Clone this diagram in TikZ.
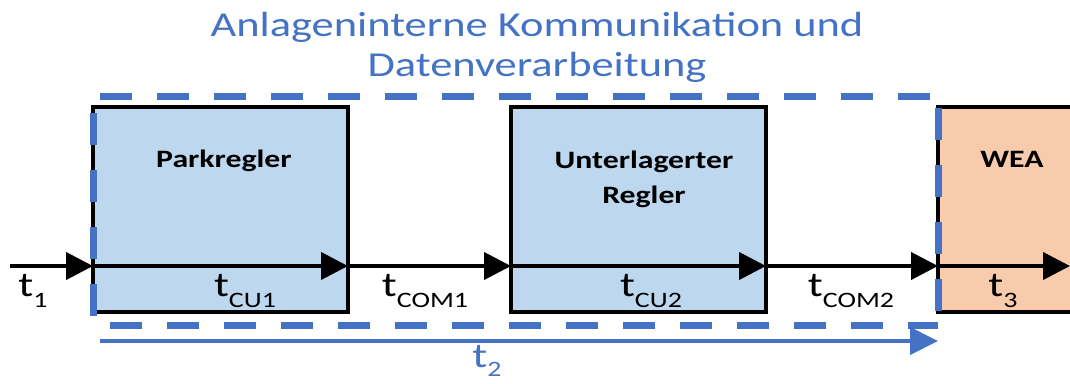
\documentclass[tikz,border=0pt]{standalone}
\usepackage{fontspec}
\setmainfont{Carlito}
\usetikzlibrary{arrows.meta}
\definecolor{accblue}{HTML}{4472C4}
\definecolor{boxblue}{HTML}{BDD7EE}
\definecolor{boxorange}{HTML}{F8CBAD}
\newcommand{\hstretch}[1]{\scalebox{1.27}[1]{#1}}
\newcommand{\tsub}[1]{\hstretch{t\raisebox{-11pt}{\fontsize{22}{22}\selectfont #1}}}
\tikzset{
  blockbox/.style={draw=black, line width=3.5pt, minimum width=255pt, minimum height=205pt, inner sep=0pt, outer sep=0pt},
  blocktitle/.style={font=\fontsize{25}{29}\selectfont\bfseries, anchor=base, inner sep=0pt},
  tlabel/.style={font=\fontsize{35}{40}\selectfont, anchor=base, inner sep=0pt},
  flowarrow/.style={line width=4pt, -{Triangle[length=27pt,width=27pt]}},
  frameline/.style={draw=accblue, line width=7pt, dash pattern=on 32pt off 25pt},
  titletext/.style={font=\fontsize{35}{40}\selectfont, text=accblue, anchor=base, inner sep=0pt}
}
\begin{document}
\begin{tikzpicture}[x=1pt,y=-1pt]
\useasboundingbox (0,0) rectangle (1070,383);
\clip (0,0) rectangle (1070,383);
% title
\node[titletext] (title1) at (537,36) {\hstretch{Anlageninterne Kommunikation und}};
\node[titletext] (title2) at (537,76) {\hstretch{Datenverarbeitung}};
% boxes
\node[blockbox, fill=boxblue] (pk) at (220.5,209.5) {};
\node[blockbox, fill=boxblue] (ur) at (638.5,209.5) {};
\node[blockbox, fill=boxorange, anchor=west] (wea) at (938,209.5) {};
% box titles
\node[blocktitle] (pkt) at (224,167) {\hstretch{Parkregler}};
\node[blocktitle] (urt1) at (644,168) {\hstretch{Unterlagerter}};
\node[blocktitle] (urt2) at (644,203) {\hstretch{Regler}};
\node[blocktitle] (weat) at (1012,167) {\hstretch{WEA}};
% dashed frame (drawn side by side)
\coordinate (ftl) at (100,96);
\coordinate (ftr) at (938,96);
\coordinate (fl1) at (93,113);
\coordinate (fl2) at (93,325);
\coordinate (fb1) at (110,325);
\coordinate (fb2) at (938,325);
\coordinate (fr1) at (938,108);
\draw[frameline] (ftl) -- (ftr);
\draw[frameline] (fl1) -- (fl2);
\draw[frameline] (fb1) -- (fb2);
\draw[frameline] (fr1) -- (fb2);
% main time line
\coordinate (s) at (10,266);
\coordinate (e) at (1070,266);
\draw[flowarrow] (s) -- (s -| pk.west);
\draw[flowarrow] (s -| pk.west) -- (s -| pk.east);
\draw[flowarrow] (s -| pk.east) -- (s -| ur.west);
\draw[flowarrow] (s -| ur.west) -- (s -| ur.east);
\draw[flowarrow] (s -| ur.east) -- (s -| wea.west);
\draw[flowarrow] (s -| wea.west) -- (e);
% t2 arrow
\coordinate (b1) at (100,341);
\draw[accblue, line width=4pt, -{Triangle[length=28pt,width=27pt]}] (b1) -- (b1 -| wea.west);
% labels
\node[tlabel] (l1) at (33,296) {\tsub{1}};
\node[tlabel] (l2) at (245,296) {\tsub{CU1}};
\node[tlabel] (l3) at (425,296) {\tsub{COM1}};
\node[tlabel] (l4) at (651,296) {\tsub{CU2}};
\node[tlabel] (l5) at (851,296) {\tsub{COM2}};
\node[tlabel] (l6) at (1003,296) {\tsub{3}};
\node[tlabel, text=accblue] (l7) at (487,367) {\hstretch{t\raisebox{-9pt}{\fontsize{22}{22}\selectfont 2}}};
\end{tikzpicture}
\end{document}
